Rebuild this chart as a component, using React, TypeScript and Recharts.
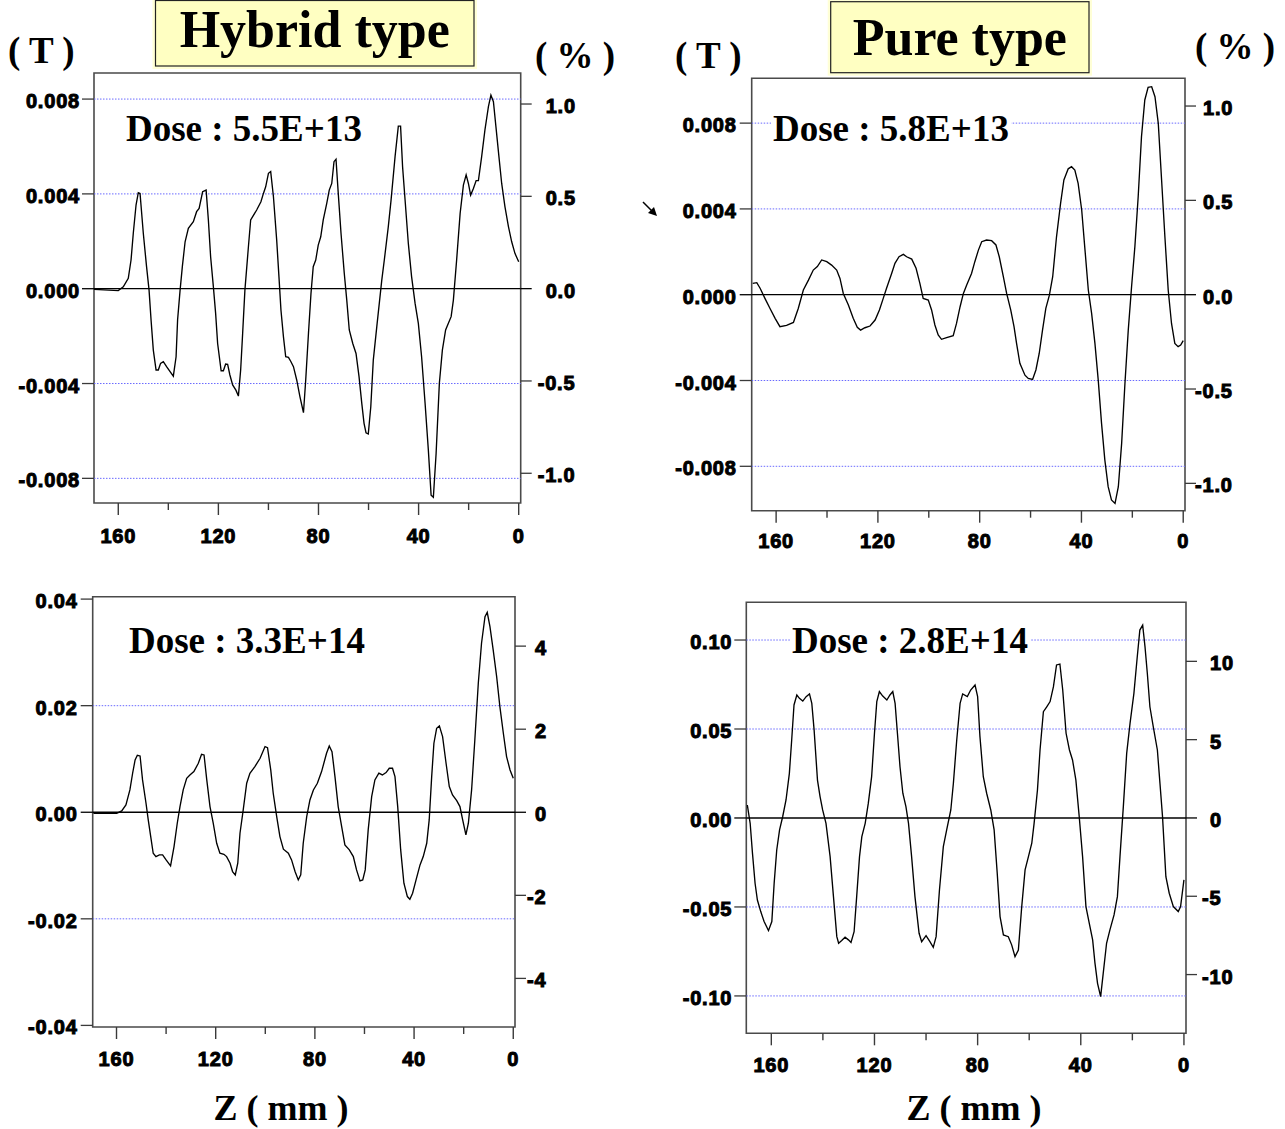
import React from "react";
import { LineChart, Line, XAxis, YAxis, ReferenceLine, ReferenceArea } from "recharts";

// ---- shared axis values ----
const zTicks = [160, 140, 120, 100, 80, 60, 40, 20, 0];

// ---- Hybrid type, Dose 5.5E+13 : [Z (mm), B (T)] ----
const hybridLowDose: [number, number][] = [
  [169.7, -0.00003], [160.0, -0.00008], [158.0, 0.00008], [156.0, 0.00044], [154.9, 0.00121], [154.0, 0.00234], [152.9, 0.00353], [152.0, 0.00405], [151.3, 0.00402], [150.0, 0.00234],
  [148.7, 0.00093], [147.7, -0.00006], [146.9, -0.00132], [146.0, -0.00259], [144.9, -0.00343], [144.0, -0.00343], [143.1, -0.00315], [142.0, -0.00308], [140.7, -0.00329], [139.3, -0.0035],
  [138.0, -0.00369], [136.9, -0.00287], [136.3, -0.00132], [135.3, -0.00006], [134.4, 0.00093], [133.3, 0.00198], [132.0, 0.00255], [130.0, 0.00283], [128.7, 0.00325], [127.7, 0.00339],
  [126.3, 0.00409], [124.9, 0.00416], [124.0, 0.0029], [123.1, 0.00135], [122.0, 0.00008], [121.1, -0.00104], [120.3, -0.00231], [118.9, -0.00346], [118.0, -0.00346], [117.1, -0.00318],
  [116.3, -0.00319], [115.4, -0.00364], [114.3, -0.00406], [113.0, -0.00428], [112.0, -0.00453], [111.1, -0.00343], [110.3, -0.00188], [109.4, -0.00006], [108.0, 0.00177], [107.1, 0.0029],
  [106.3, 0.00304], [104.7, 0.00332], [103.0, 0.00367], [102.0, 0.00402], [101.1, 0.0043], [100.0, 0.00487], [99.1, 0.00494], [98.0, 0.00388], [96.7, 0.00205], [95.8, 0.00051],
  [95.0, -0.0009], [94.0, -0.00203], [93.1, -0.00287], [92.0, -0.0029], [91.0, -0.00308], [90.0, -0.00329], [88.7, -0.00385], [87.4, -0.00456], [86.0, -0.00523], [85.1, -0.00385],
  [84.0, -0.00188], [83.0, -0.0002], [82.1, 0.00093], [81.1, 0.00121], [80.1, 0.00184], [79.1, 0.00219], [78.1, 0.0029], [76.7, 0.0036], [75.7, 0.00416], [74.7, 0.00444],
  [73.8, 0.00536], [73.0, 0.00546], [72.1, 0.00402], [71.0, 0.00234], [69.7, 0.00065], [68.7, -0.00048], [67.7, -0.00174], [66.3, -0.00231], [65.0, -0.00273], [63.8, -0.00371],
  [62.7, -0.00484], [61.8, -0.00568], [61.0, -0.00608], [60.1, -0.00613], [59.1, -0.00498], [58.1, -0.00301], [56.7, -0.0016], [54.7, 0.00037], [53.7, 0.00121], [52.1, 0.00262],
  [51.0, 0.00374], [49.4, 0.00557], [48.1, 0.00686], [47.2, 0.00686], [46.4, 0.00515], [45.4, 0.00374], [44.1, 0.00191], [42.8, 0.00051], [41.4, -0.00062], [40.1, -0.00146],
  [38.8, -0.00287], [37.4, -0.00484], [36.1, -0.00681], [35.0, -0.00871], [34.1, -0.0088], [33.0, -0.00695], [31.7, -0.00399], [30.5, -0.00259], [29.2, -0.00174], [28.1, -0.00146],
  [27.0, -0.00118], [26.1, -0.00048], [24.8, 0.00121], [23.4, 0.00318], [22.1, 0.00437], [21.0, 0.0048], [20.1, 0.00444], [19.2, 0.00395], [18.1, 0.00423], [17.0, 0.00456],
  [16.1, 0.00456], [14.8, 0.00557], [13.5, 0.00669], [12.1, 0.00768], [11.1, 0.00817], [10.1, 0.00789], [9.1, 0.00684], [7.9, 0.00557], [6.8, 0.00444], [5.5, 0.00346],
  [4.1, 0.00262], [2.8, 0.00198], [1.5, 0.00149], [0, 0.00114],
];

// ---- Pure type, Dose 5.8E+13 ----
const pureLowDose: [number, number][] = [
  [169.2, 0.00053], [167.6, 0.00056], [166.3, 0.0003], [164.4, -0.00017], [162.4, -0.00064], [160.4, -0.0011], [158.5, -0.00149], [155.9, -0.00143], [153.2, -0.00129], [151.3, -0.00064],
  [149.3, 0.00022], [147.3, 0.00068], [145.4, 0.00115], [143.8, 0.00131], [142.1, 0.00162], [140.1, 0.00154], [138.2, 0.00138], [136.2, 0.00115], [134.9, 0.00076], [133.6, 0.00006],
  [131.6, -0.00048], [129.7, -0.0011], [128.1, -0.00152], [126.8, -0.00165], [125.1, -0.00154], [123.1, -0.00146], [121.1, -0.00118], [119.4, -0.00071], [117.9, -0.00017], [116.6, 0.0003],
  [114.6, 0.00099], [113.3, 0.00146], [111.7, 0.00177], [110.0, 0.00188], [108.7, 0.00177], [106.7, 0.00166], [105.0, 0.00123], [103.5, 0.00053], [102.2, -0.00017], [100.2, -0.00025],
  [98.9, -0.00071], [97.6, -0.00141], [96.3, -0.00188], [95.0, -0.00208], [93.0, -0.002], [90.4, -0.00191], [89.1, -0.00134], [87.7, -0.00056], [86.4, 0.00006], [85.1, 0.00045],
  [83.2, 0.00099], [81.9, 0.00154], [80.5, 0.00208], [79.2, 0.00247], [77.3, 0.00255], [75.3, 0.00252], [73.6, 0.00232], [72.3, 0.00177], [70.7, 0.00084], [69.4, 0.00006],
  [67.8, -0.00071], [66.5, -0.00149], [65.5, -0.00227], [64.2, -0.0032], [62.2, -0.00375], [60.9, -0.0039], [59.2, -0.00395], [57.9, -0.00351], [56.6, -0.00274], [55.3, -0.00165],
  [54.0, -0.00064], [52.6, -0.00002], [51.3, 0.00084], [49.8, 0.0027], [48.2, 0.00426], [46.9, 0.00535], [45.2, 0.00587], [43.9, 0.00597], [42.6, 0.00581], [41.3, 0.00519],
  [39.9, 0.00395], [38.6, 0.00208], [37.3, 0.00022], [36.0, -0.00087], [34.7, -0.00227], [33.4, -0.00398], [32.1, -0.006], [30.8, -0.00771], [29.5, -0.00895], [28.2, -0.00957],
  [26.8, -0.00973], [25.5, -0.00895], [24.2, -0.00693], [22.9, -0.00413], [21.6, -0.00165], [20.3, 0.00037], [19.0, 0.00224], [17.7, 0.00457], [16.4, 0.00737], [15.1, 0.00908],
  [13.8, 0.00967], [12.4, 0.0097], [11.1, 0.00923], [9.8, 0.00799], [8.5, 0.00535], [7.2, 0.0027], [5.9, 0.00022], [4.6, -0.00134], [3.3, -0.00227], [2.0, -0.00242],
  [1.0, -0.00235], [0, -0.00214],
];

// ---- Hybrid type, Dose 3.3E+14 ----
const hybridHighDose: [number, number][] = [
  [169.3, -0.00019], [159.9, -0.00019], [157.9, 0.00025], [156.2, 0.00138], [154.6, 0.00419], [153.5, 0.00732], [152.5, 0.00982], [151.6, 0.01069], [150.5, 0.01057], [149.5, 0.00607],
  [148.1, 0.00169], [147.2, -0.00144], [146.2, -0.00457], [145.2, -0.00769], [144.1, -0.00832], [142.7, -0.008], [141.4, -0.008], [140.0, -0.00894], [138.2, -0.01007], [136.8, -0.00644],
  [135.5, -0.00206], [134.4, 0.00106], [133.1, 0.00419], [131.7, 0.00638], [130.4, 0.007], [128.8, 0.00763], [127.0, 0.00919], [125.7, 0.01088], [124.7, 0.01076], [123.6, 0.00607],
  [122.3, 0.00106], [121.0, -0.00206], [119.6, -0.00582], [118.3, -0.00769], [116.7, -0.00788], [115.6, -0.00832], [114.2, -0.00957], [113.2, -0.01113], [112.1, -0.01176], [111.1, -0.00957],
  [110.2, -0.00394], [108.9, 0.00044], [107.5, 0.00544], [106.2, 0.00732], [104.2, 0.00857], [102.1, 0.01013], [100.1, 0.01232], [99.1, 0.01213], [97.8, 0.00794], [96.8, 0.00356],
  [95.4, -0.00081], [94.1, -0.00457], [92.7, -0.00694], [90.7, -0.00769], [89.4, -0.00894], [88.0, -0.01113], [86.7, -0.0127], [85.7, -0.01176], [84.7, -0.00582], [83.3, -0.00081],
  [82.0, 0.00231], [80.6, 0.00419], [79.0, 0.00544], [77.3, 0.00763], [75.3, 0.01107], [74.2, 0.01245], [73.1, 0.01138], [71.9, 0.00669], [70.6, 0.00106], [69.2, -0.00269],
  [67.9, -0.00613], [66.1, -0.00707], [64.5, -0.00832], [63.2, -0.01082], [61.8, -0.01288], [60.7, -0.0127], [59.7, -0.01082], [58.5, -0.00331], [57.1, 0.00294], [55.8, 0.00607],
  [54.2, 0.00732], [52.8, 0.007], [51.3, 0.00744], [50.0, 0.00826], [48.7, 0.00826], [47.7, 0.00669], [46.6, 0.00106], [45.4, -0.00707], [44.1, -0.01332], [42.7, -0.01582],
  [41.7, -0.01632], [40.6, -0.0152], [39.2, -0.0127], [37.6, -0.00988], [36.3, -0.00832], [34.9, -0.00582], [33.9, -0.00144], [32.9, 0.00669], [32.0, 0.01295], [30.9, 0.01576],
  [29.8, 0.0162], [28.5, 0.0142], [27.1, 0.00919], [25.8, 0.00482], [24.5, 0.00325], [22.8, 0.00219], [21.5, 0.00106], [20.4, -0.00144], [19.1, -0.00425], [18.1, -0.00206],
  [16.8, 0.00419], [15.5, 0.01357], [14.1, 0.0242], [12.8, 0.03171], [11.4, 0.03671], [10.5, 0.03752], [9.4, 0.03483], [8.1, 0.03046], [6.7, 0.02545], [5.4, 0.01983],
  [4.0, 0.01482], [2.7, 0.01044], [1.3, 0.00794], [0, 0.00638],
];

// ---- Pure type, Dose 2.8E+14 ----
const pureHighDose: [number, number][] = [
  [169.3, 0.0073], [168.2, -0.003], [167.3, -0.0199], [166.3, -0.0367], [165.4, -0.0461], [164.1, -0.0526], [162.8, -0.0582], [161.1, -0.0633], [159.8, -0.0582], [158.9, -0.0367],
  [157.9, -0.018], [156.8, -0.0067], [155.6, 0.0007], [154.3, 0.0101], [153.0, 0.0251], [152.1, 0.0438], [151.2, 0.0635], [150.1, 0.0691], [149.1, 0.0672], [147.8, 0.0657],
  [146.5, 0.0682], [145.2, 0.0697], [144.3, 0.0644], [143.4, 0.0494], [142.1, 0.0213], [141.1, 0.012], [140.1, 0.0045], [138.8, -0.003], [137.2, -0.0217], [135.9, -0.0442],
  [134.6, -0.0667], [133.9, -0.0704], [132.7, -0.0689], [131.4, -0.067], [130.1, -0.0685], [129.1, -0.07], [127.9, -0.0639], [126.9, -0.0442], [125.8, -0.0217], [124.9, -0.0105],
  [123.6, -0.003], [122.4, 0.0082], [121.1, 0.0232], [120.0, 0.0476], [119.1, 0.0654], [118.1, 0.071], [116.8, 0.0685], [115.2, 0.0663], [114.0, 0.0691], [112.9, 0.071],
  [112.0, 0.0644], [111.1, 0.0476], [110.1, 0.0288], [109.0, 0.0139], [107.8, 0.0064], [106.8, -0.003], [105.6, -0.0217], [104.3, -0.0442], [102.7, -0.0648], [101.7, -0.0695],
  [100.0, -0.0661], [98.5, -0.0695], [97.2, -0.0727], [96.1, -0.0667], [94.8, -0.0405], [93.3, -0.0161], [92.0, -0.0067], [90.4, 0.0045], [89.4, 0.0195], [88.1, 0.0438],
  [86.8, 0.0644], [85.8, 0.0697], [84.0, 0.0682], [82.7, 0.0719], [81.0, 0.0747], [80.0, 0.0682], [79.1, 0.0457], [77.8, 0.0232], [76.5, 0.0139], [74.9, 0.0045],
  [73.6, -0.0067], [72.4, -0.0311], [71.3, -0.0554], [70.0, -0.0657], [68.1, -0.0667], [66.8, -0.0713], [65.5, -0.0779], [64.2, -0.0742], [62.9, -0.0498], [61.6, -0.0292],
  [60.3, -0.0217], [59.0, -0.0142], [58.1, -0.003], [56.8, 0.0157], [55.8, 0.0382], [54.5, 0.0597], [53.2, 0.0625], [51.9, 0.0654], [50.6, 0.0738], [49.4, 0.086],
  [48.1, 0.0865], [47.0, 0.0719], [45.7, 0.0476], [44.4, 0.0382], [43.2, 0.0326], [41.9, 0.0213], [40.6, 0.0007], [39.3, -0.0217], [38.0, -0.0498], [36.7, -0.0592],
  [35.4, -0.0685], [34.5, -0.0816], [33.5, -0.0929], [32.3, -0.1004], [31.3, -0.0873], [30.0, -0.0704], [28.7, -0.0629], [27.1, -0.0545], [25.8, -0.0442], [24.8, -0.0217],
  [23.5, 0.0064], [22.2, 0.0363], [20.9, 0.0532], [19.4, 0.07], [18.1, 0.0906], [17.1, 0.1056], [16.0, 0.1084], [15.1, 0.0963], [14.2, 0.0813], [13.2, 0.0625],
  [11.9, 0.0513], [10.3, 0.0382], [9.3, 0.0195], [8.3, 0.0007], [7.0, -0.033], [5.7, -0.0423], [4.1, -0.0498], [2.2, -0.0526], [1.3, -0.0498], [0, -0.0348],
];

// ---- tick values ----
const lowDoseTeslaTicks = [-0.008, -0.004, 0, 0.004, 0.008];
const lowDosePercentTicks = [-1, -0.5, 0, 0.5, 1];
const hybridHighTeslaTicks = [-0.04, -0.02, 0, 0.02, 0.04];
const hybridHighPercentTicks = [-4, -2, 0, 2, 4];
const pureHighTeslaTicks = [-0.1, -0.05, 0, 0.05, 0.1];
const pureHighPercentTicks = [-10, -5, 0, 5, 10];

const lowDoseGrid = [-0.008, -0.004, 0.004, 0.008];
const hybridHighGrid = [-0.02, 0.02];
const pureHighGrid = [-0.1, -0.05, 0.05, 0.1];

const SANS = "'Liberation Sans', Arial, sans-serif";
const SERIF = "'Liberation Serif', 'Times New Roman', serif";
const AXIS_COLOR = "#3a3a3a";

type PanelCfg = {
  key: string;
  series: [number, number][];
  left: number; top: number; width: number; height: number;
  mt: number; lw: number; rw: number; xh: number;
  xDomain: [number, number];
  yDomain: [number, number];
  rDomain: [number, number];
  yTicks: number[]; rTicks: number[]; grid: number[];
  fmtL: (v: number) => string; fmtR: (v: number) => string;
  lGap: number; rGap: number; xLabDy: number;
};

const panels: PanelCfg[] = [
  {
    key: "hybridLow", series: hybridLowDose,
    left: 0, top: 60, width: 640, height: 500, mt: 13, lw: 94, rw: 119.3, xh: 57,
    xDomain: [-0.8, 169.7], yDomain: [-0.00904, 0.0091], rDomain: [-1.161, 1.168],
    yTicks: lowDoseTeslaTicks, rTicks: lowDosePercentTicks, grid: lowDoseGrid,
    fmtL: (v) => v.toFixed(3), fmtR: (v) => v.toFixed(1), lGap: 2, rGap: 14, xLabDy: 40,
  },
  {
    key: "pureLow", series: pureLowDose,
    left: 640, top: 60, width: 645, height: 500, mt: 18.3, lw: 111.7, rw: 100, xh: 49.3,
    xDomain: [-0.7, 169.6], yDomain: [-0.01007, 0.01009], rDomain: [-1.145, 1.147],
    yTicks: lowDoseTeslaTicks, rTicks: lowDosePercentTicks, grid: lowDoseGrid,
    fmtL: (v) => v.toFixed(3), fmtR: (v) => v.toFixed(1), lGap: 3, rGap: 7, xLabDy: 37,
  },
  {
    key: "hybridHigh", series: hybridHighDose,
    left: 0, top: 580, width: 640, height: 500, mt: 16.7, lw: 92.7, rw: 125, xh: 53,
    xDomain: [-0.7, 169.6], yDomain: [-0.0403, 0.04045], rDomain: [-5.17, 5.19],
    yTicks: hybridHighTeslaTicks, rTicks: hybridHighPercentTicks, grid: hybridHighGrid,
    fmtL: (v) => v.toFixed(2), fmtR: (v) => String(v), lGap: 3, rGap: 9, xLabDy: 39,
  },
  {
    key: "pureHigh", series: pureHighDose,
    left: 640, top: 580, width: 645, height: 500, mt: 22.3, lw: 106.3, rw: 99, xh: 46.7,
    xDomain: [-0.8, 169.7], yDomain: [-0.121, 0.1212], rDomain: [-13.75, 13.77],
    yTicks: pureHighTeslaTicks, rTicks: pureHighPercentTicks, grid: pureHighGrid,
    fmtL: (v) => v.toFixed(2), fmtR: (v) => String(v), lGap: 2, rGap: 13, xLabDy: 39,
  },
];

const labelStyle = {
  fontFamily: SANS, fontWeight: 700, fontSize: 20, fill: "#000", stroke: "#000", strokeWidth: 1,
  letterSpacing: 0.8,
} as const;

function Panel({ cfg }: { cfg: PanelCfg }) {
  const data = cfg.series.map(([z, b]) => ({ z, b }));
  const xTick = (p: any) => {
    const v = p.payload.value;
    const major = v % 40 === 0;
    return (
      <g>
        <line x1={p.x} x2={p.x} y1={p.y} y2={p.y + (major ? 12 : 7)} stroke={AXIS_COLOR} strokeWidth={1.4} />
        {major && (
          <text x={p.x} y={p.y + cfg.xLabDy} textAnchor="middle" {...labelStyle}>{v}</text>
        )}
      </g>
    );
  };
  const lTick = (p: any) => {
    const v = p.payload.value;
    return (
      <g>
        <line x1={p.x} x2={p.x - 12} y1={p.y} y2={p.y} stroke={v === 0 ? "#000" : AXIS_COLOR} strokeWidth={1.3} />
        <text x={p.x - 12 - cfg.lGap} y={p.y} dy={9} textAnchor="end" {...labelStyle}>{cfg.fmtL(v)}</text>
      </g>
    );
  };
  const rTick = (p: any) => {
    const v = p.payload.value;
    return (
      <g>
        <line x1={p.x} x2={p.x + 11} y1={p.y} y2={p.y} stroke={v === 0 ? "#000" : AXIS_COLOR} strokeWidth={1.3} />
        <text x={p.x + 11 + cfg.rGap - (v < 0 ? 8 : 0)} y={p.y} dy={9} textAnchor="start" {...labelStyle}>{cfg.fmtR(v)}</text>
      </g>
    );
  };
  return (
    <div style={{ position: "absolute", left: cfg.left, top: cfg.top, width: cfg.width, height: cfg.height }}>
      <LineChart width={cfg.width} height={cfg.height} data={data} margin={{ top: cfg.mt, right: 0, bottom: 0, left: 0 }}>
        <XAxis
          dataKey="z" type="number" domain={cfg.xDomain} reversed allowDataOverflow
          ticks={zTicks} interval={0} height={cfg.xh}
          axisLine={false} tickLine={false} tickSize={0} tickMargin={0} tick={xTick}
        />
        <YAxis
          yAxisId="L" type="number" domain={cfg.yDomain} allowDataOverflow ticks={cfg.yTicks} interval={0}
          width={cfg.lw} axisLine={false} tickLine={false} tickSize={0} tickMargin={0} tick={lTick}
        />
        <YAxis
          yAxisId="R" orientation="right" type="number" domain={cfg.rDomain} allowDataOverflow ticks={cfg.rTicks} interval={0}
          width={cfg.rw} axisLine={false} tickLine={false} tickSize={0} tickMargin={0} tick={rTick}
        />
        {cfg.grid.map((g) => (
          <ReferenceLine key={g} yAxisId="L" y={g} stroke="#6a6aff" strokeWidth={1} strokeDasharray="1.5 1.5" />
        ))}
        <ReferenceLine yAxisId="L" y={0} stroke="#000" strokeWidth={1.3} />
        <ReferenceArea
          yAxisId="L" x1={cfg.xDomain[0]} x2={cfg.xDomain[1]} y1={cfg.yDomain[0]} y2={cfg.yDomain[1]}
          fill="none" fillOpacity={0} stroke="#4a4a4a" strokeWidth={1.6}
        />
        <Line
          yAxisId="L" type="linear" dataKey="b" stroke="#000" strokeWidth={1.35} dot={false}
          isAnimationActive={false}
        />
      </LineChart>
    </div>
  );
}

const doseLabels = [
  { text: "Dose : 5.5E+13", x: 126, y: 141 },
  { text: "Dose : 5.8E+13", x: 773, y: 141 },
  { text: "Dose : 3.3E+14", x: 129, y: 653 },
  { text: "Dose : 2.8E+14", x: 792, y: 653 },
];

const titleBoxes = [
  { text: "Hybrid type", x0: 155.5, x1: 474, y0: 0.5, y1: 66, base: 47 },
  { text: "Pure type", x0: 830.7, x1: 1089, y0: 1.7, y1: 72.7, base: 55 },
];

const unitLabels = [
  { text: "( T )", x: 8, y: 63 },
  { text: "( % )", x: 535, y: 68 },
  { text: "( T )", x: 675, y: 68 },
  { text: "( % )", x: 1195, y: 59 },
];

const axisTitles = [
  { text: "Z ( mm )", cx: 281, y: 1120 },
  { text: "Z ( mm )", cx: 974, y: 1120 },
];

export default function App() {
  return (
    <div style={{ position: "absolute", left: 0, top: 0, width: 1285, height: 1129, background: "#fff", overflow: "hidden" }}>
      {panels.map((p) => (
        <Panel key={p.key} cfg={p} />
      ))}
      <svg width={1285} height={1129} style={{ position: "absolute", left: 0, top: 0, pointerEvents: "none" }}>
        {titleBoxes.map((b) => (
          <g key={b.text}>
            <rect x={b.x0 - 3} y={0} width={b.x1 - b.x0 + 6} height={b.y1 + 3} fill="#ffffd6" />
            <rect x={b.x0} y={b.y0} width={b.x1 - b.x0} height={b.y1 - b.y0} fill="#ffffc2" stroke="#222" strokeWidth={1.2} />
            <text x={(b.x0 + b.x1) / 2} y={b.base} textAnchor="middle" fontFamily={SERIF} fontWeight={700} fontSize={52} fill="#000">
              {b.text}
            </text>
          </g>
        ))}
        {unitLabels.map((u, i) => (
          <text key={i} x={u.x} y={u.y} fontFamily={SERIF} fontWeight={700} fontSize={37} fill="#000" xmlSpace="preserve">
            {u.text}
          </text>
        ))}
        {doseLabels.map((d) => (
          <g key={d.text}>
            <rect x={d.x - 2} y={d.y - 27} width={240} height={30} fill="#fff" />
            <text x={d.x} y={d.y} fontFamily={SERIF} fontWeight={700} fontSize={37} fill="#000">
              {d.text}
            </text>
          </g>
        ))}
        {axisTitles.map((a, i) => (
          <text key={i} x={a.cx} y={a.y} textAnchor="middle" fontFamily={SERIF} fontWeight={700} fontSize={36} fill="#000">
            {a.text}
          </text>
        ))}
        <g>
          <line x1={643} y1={202} x2={653} y2={212} stroke="#000" strokeWidth={1.5} />
          <polygon points="657,216 648,213 654,207" fill="#000" />
        </g>
      </svg>
    </div>
  );
}
